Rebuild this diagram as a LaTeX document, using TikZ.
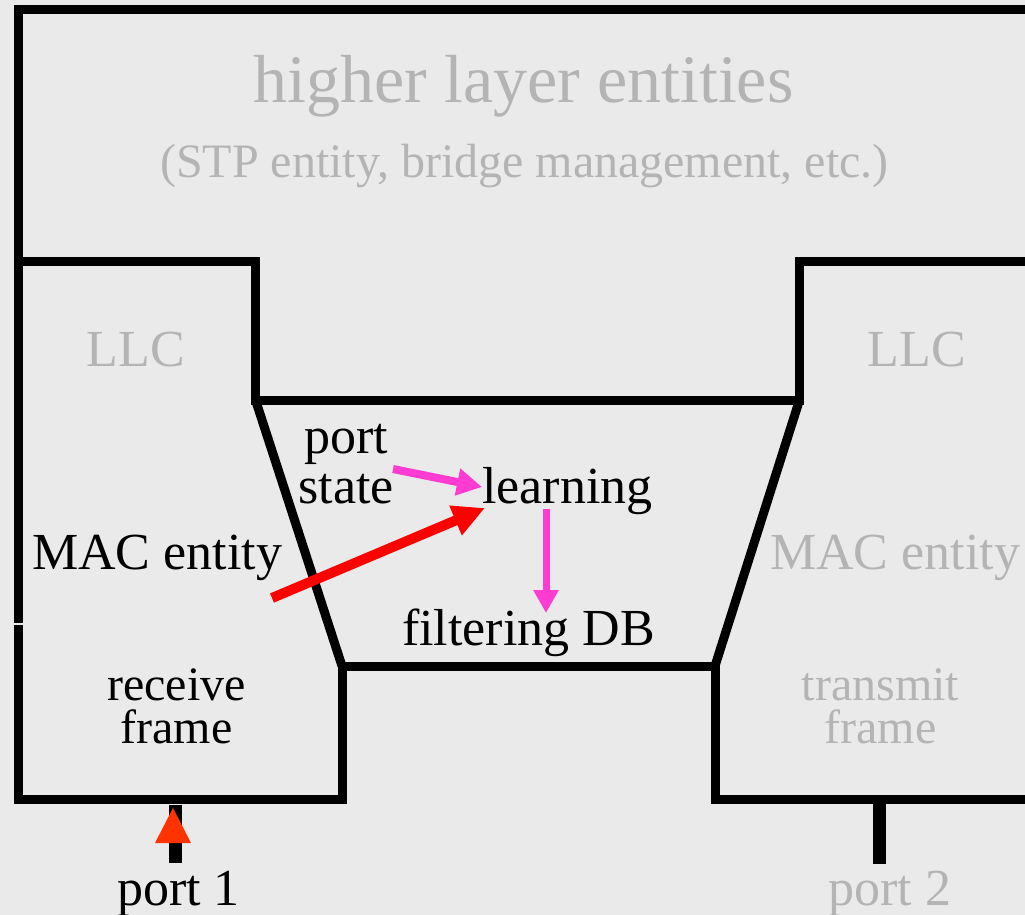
\documentclass[tikz,border=0pt]{standalone}
\usepackage{fontspec}
\setmainfont{Liberation Serif}
\usetikzlibrary{arrows.meta}

\definecolor{bg}{RGB}{234,234,234}
\definecolor{dim}{RGB}{180,180,180}
\definecolor{flowpink}{RGB}{255,60,210}
\definecolor{flowred}{RGB}{255,0,0}
\definecolor{portred}{RGB}{255,51,0}

\tikzset{
  wall/.style={line width=9pt, line join=miter, line cap=butt},
  label/.style={inner sep=0pt, anchor=base, text=black},
  faded/.style={label, text=dim},
  big/.style={font=\fontsize{68}{68}\selectfont},
  mid/.style={font=\fontsize{52}{50}\selectfont},
  small/.style={font=\fontsize{48}{43}\selectfont, align=center},
  sub/.style={font=\fontsize{48}{48}\selectfont},
  pinkflow/.style={draw=flowpink, line width=8pt, -{Triangle[length=25pt,width=26pt]}},
  redflow/.style={draw=flowred, line width=10pt, -{Triangle[length=32pt,width=30pt]}},
  portbar/.style={line width=12.5pt, line cap=butt},
}

\begin{document}
\begin{tikzpicture}[x=1pt, y=-1pt]
  \useasboundingbox (0,0) rectangle (1025,915);
  \fill[bg] (0,0) rectangle (1025,915);

  % layer outlines
  \draw[wall] (18,622.5) -- (18,9.5) -- (1025,9.5);
  \draw[wall] (18,261) -- (255.5,261) -- (255.5,400) -- (799.5,400) -- (799.5,261) -- (1025,261);
  \draw[wall] (255.5,400) -- (342,666);
  \draw[wall] (799.5,400) -- (715,666);
  \draw[wall] (18,624.5) -- (18,799) -- (342,799) -- (342,666) -- (715,666) -- (715,799) -- (1025,799);

  % labels (multi-line labels sit on the baseline of their last line)
  \node[faded, big] (hl) at (523.5,103) {higher layer entities};
  \node[faded, sub] (hlsub) at (524.5,177) {(STP entity, bridge management, etc.)};
  \node[faded, mid] (llc1) at (136,366) {LLC};
  \node[faded, mid] (llc2) at (917,366) {LLC};
  \node[label, mid, anchor=base west] (mac1) at (32,569) {MAC entity};
  \node[faded, mid, anchor=base west] (mac2) at (770,569) {MAC entity};
  \node[label, mid, align=center] (ps) at (346,503) {port\\state};
  \node[label, mid] (learn) at (567.5,503) {learning};
  \node[label, mid] (fdb) at (528.5,645) {filtering DB};
  \node[label, small] (rx) at (176.5,743) {receive\\frame};
  \node[faded, small] (tx) at (880.5,743) {transmit\\frame};
  \node[label, mid] (p1) at (178.5,905) {port 1};
  \node[faded, mid] (p2) at (890,905) {port 2};

  % ports
  \coordinate (p1top) at (175.5,805);
  \coordinate (p1bot) at (175.5,863);
  \coordinate (p2top) at (879.5,799);
  \coordinate (p2bot) at (879.5,864);
  \draw[portbar] (p1bot) -- (p1top);
  \fill[portred] (155,843) -- (191,843) -- (173,808) -- cycle;
  \draw[portbar] (p2top) -- (p2bot);

  % information flow
  \coordinate (psout) at (393,469);
  \coordinate (learnin) at (482,487);
  \coordinate (macout) at (272,598);
  \coordinate (learnin2) at (485,508);
  \coordinate (learnout) at (546,509);
  \coordinate (fdbin) at (546,613);
  \draw[pinkflow] (psout) -- (learnin);
  \draw[redflow] (macout) -- (learnin2);
  \draw[pinkflow, line width=7pt, -{Triangle[length=23pt,width=24pt]}] (learnout) -- (fdbin);
\end{tikzpicture}
\end{document}
